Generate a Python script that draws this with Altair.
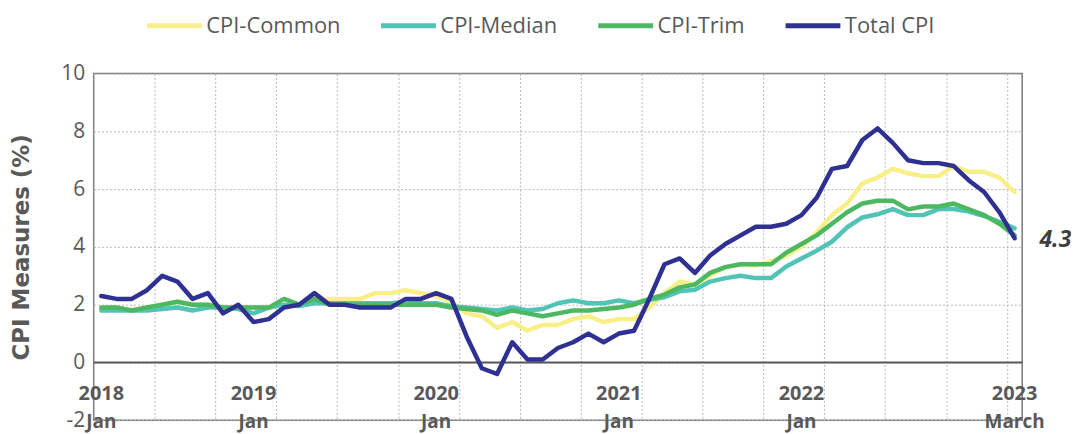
import altair as alt
import pandas as pd

# ---------------- data (Mar 2018 .. Mar 2023, monthly, y/y %) ----------------
series_names = ["CPI-Common", "CPI-Median", "CPI-Trim", "Total CPI"]
series_colors = ["#F8EF88", "#52C3B7", "#4DB862", "#2E3192"]

cpi_common = [1.9, 1.9, 1.8, 1.9, 2.0, 2.1, 2.0, 2.0, 1.9, 1.9,
              1.9, 1.9, 2.0, 2.0, 2.1, 2.2, 2.2, 2.2, 2.4, 2.4, 2.5, 2.4,
              2.3, 2.1, 1.7, 1.6, 1.2, 1.4, 1.1, 1.3, 1.3, 1.5, 1.6, 1.4,
              1.5, 1.5, 1.9, 2.4, 2.8, 2.7, 3.0, 3.3, 3.4, 3.35, 3.5, 3.7,
              4.0, 4.5, 5.1, 5.5, 6.2, 6.4, 6.7, 6.55, 6.45, 6.45, 6.8, 6.6,
              6.6, 6.4, 5.9]
cpi_median = [1.8, 1.8, 1.8, 1.8, 1.85, 1.9, 1.8, 1.9, 1.9, 1.85,
              1.7, 1.9, 2.0, 1.95, 2.05, 2.05, 2.05, 2.05, 2.05, 2.05, 2.1, 2.05,
              2.05, 1.95, 1.9, 1.85, 1.8, 1.9, 1.8, 1.85, 2.05, 2.15, 2.05, 2.05,
              2.15, 2.05, 2.17, 2.26, 2.46, 2.52, 2.8, 2.92, 3.0, 2.92, 2.92, 3.32,
              3.6, 3.87, 4.18, 4.68, 5.02, 5.13, 5.31, 5.1, 5.1, 5.31, 5.31, 5.22,
              5.07, 4.87, 4.64]
cpi_trim = [1.9, 1.9, 1.8, 1.9, 2.0, 2.1, 2.0, 2.0, 1.9, 1.9,
            1.9, 1.9, 2.2, 2.0, 2.2, 2.0, 2.0, 2.0, 2.0, 2.0, 2.0, 2.0,
            2.0, 1.9, 1.85, 1.8, 1.65, 1.8, 1.7, 1.6, 1.7, 1.8, 1.8, 1.85,
            1.9, 2.0, 2.2, 2.35, 2.6, 2.7, 3.1, 3.3, 3.4, 3.4, 3.4, 3.8,
            4.1, 4.4, 4.8, 5.2, 5.5, 5.6, 5.6, 5.3, 5.4, 5.4, 5.5, 5.3,
            5.1, 4.8, 4.4]
total_cpi = [2.3, 2.2, 2.2, 2.5, 3.0, 2.8, 2.2, 2.4, 1.7, 2.0,
             1.4, 1.5, 1.9, 2.0, 2.4, 2.0, 2.0, 1.9, 1.9, 1.9, 2.2, 2.2,
             2.4, 2.2, 0.9, -0.2, -0.4, 0.7, 0.1, 0.1, 0.5, 0.7, 1.0, 0.7,
             1.0, 1.1, 2.2, 3.4, 3.6, 3.1, 3.7, 4.1, 4.4, 4.7, 4.7, 4.8,
             5.1, 5.7, 6.7, 6.8, 7.7, 8.1, 7.6, 7.0, 6.9, 6.9, 6.8, 6.3,
             5.9, 5.2, 4.3]

tick_index = [0, 10, 22, 34, 46, 60]
tick_years = ["2018", "2019", "2020", "2021", "2022", "2023"]
tick_months = ["Jan", "Jan", "Jan", "Jan", "Jan", "March"]

# ---------------- build table ----------------
n = len(total_cpi)
rows = []
for name, vals in zip(series_names, [cpi_common, cpi_median, cpi_trim, total_cpi]):
    for i, v in enumerate(vals):
        rows.append({"idx": i, "value": v, "series": name})
df = pd.DataFrame(rows)
ticks_df = pd.DataFrame({"idx": tick_index, "year": tick_years, "month": tick_months})

grid_vals = [i - 0.5 for i in range(n + 1)]   # category boundaries

FONT = "Open Sans"
TXT = "#595959"
GRID = "#b8b8b8"

x_scale = alt.Scale(domain=[-0.5, n - 0.5], nice=False, zero=False)
y_scale = alt.Scale(domain=[-2, 10], nice=False, zero=False)

x_axis = alt.Axis(
    values=grid_vals, labels=False, title=None,
    grid=True, gridColor=GRID, gridDash=[2, 2], gridWidth=1,
    ticks=False, domain=False,
)
y_axis = alt.Axis(
    values=[-2, 0, 2, 4, 6, 8, 10], title="CPI Measures (%)",
    labelExpr="datum.value < 0 ? '-' + abs(datum.value) : '' + datum.value",
    grid=True, gridColor=GRID, gridDash=[2, 2], gridWidth=1,
    ticks=False, domain=False,
    labelFont=FONT, labelFontSize=21, labelColor=TXT, labelPadding=9,
    titleFont="DejaVu Sans", titleFontSize=23, titleFontWeight="bold",
    titleColor=TXT, titlePadding=27,
)

zero_rule = alt.Chart(alt.Data(values=[{}])).mark_rule(
    color="#595959", strokeWidth=2
).encode(y=alt.datum(0, scale=y_scale))

lines = alt.Chart(df).mark_line(
    strokeWidth=4.5, strokeJoin="round", strokeCap="round"
).encode(
    x=alt.X("idx:Q", scale=x_scale, axis=x_axis),
    y=alt.Y("value:Q", scale=y_scale, axis=y_axis),
    color=alt.Color(
        "series:N",
        scale=alt.Scale(domain=series_names, range=series_colors),
        legend=alt.Legend(
            title=None, orient="none", direction="horizontal",
            legendX=51, legendY=-78, padding=0,
            symbolType="stroke", symbolStrokeWidth=5, symbolSize=3025,
            labelFont=FONT, labelFontSize=22, labelColor=TXT,
            labelOffset=2, columnPadding=30,
        ),
    ),
)

year_labels = alt.Chart(ticks_df).mark_text(
    font=FONT, fontSize=20, fontWeight="bold", color=TXT, baseline="middle", dy=3
).encode(
    x=alt.X("idx:Q", scale=x_scale),
    y=alt.datum(-1),
    text="year:N",
)

month_labels = alt.Chart(ticks_df).mark_text(
    font=FONT, fontSize=19, fontWeight="bold", color=TXT, baseline="middle", dy=2
).encode(
    x=alt.X("idx:Q", scale=x_scale),
    y=alt.datum(-2),
    text="month:N",
)

last_label = alt.Chart(df).transform_filter(
    f"datum.series == 'Total CPI' && datum.idx == {n - 1}"
).mark_text(
    font=FONT, fontSize=23, fontWeight="bold", fontStyle="italic",
    color="#404040", align="left", baseline="middle", dx=25, dy=2,
).encode(
    x=alt.X("idx:Q", scale=x_scale),
    y=alt.Y("value:Q", scale=y_scale),
    text=alt.Text("value:Q", format=".1f"),
)

chart = alt.layer(zero_rule, lines, year_labels, month_labels, last_label).properties(
    width=932, height=348, autosize="none",
    padding={"left": 86, "top": 65, "right": 49, "bottom": 13},
).configure_view(stroke="#7a7a7a", strokeWidth=1.5)

chart.save("out.html", embed_options={"renderer": "svg", "actions": False})
